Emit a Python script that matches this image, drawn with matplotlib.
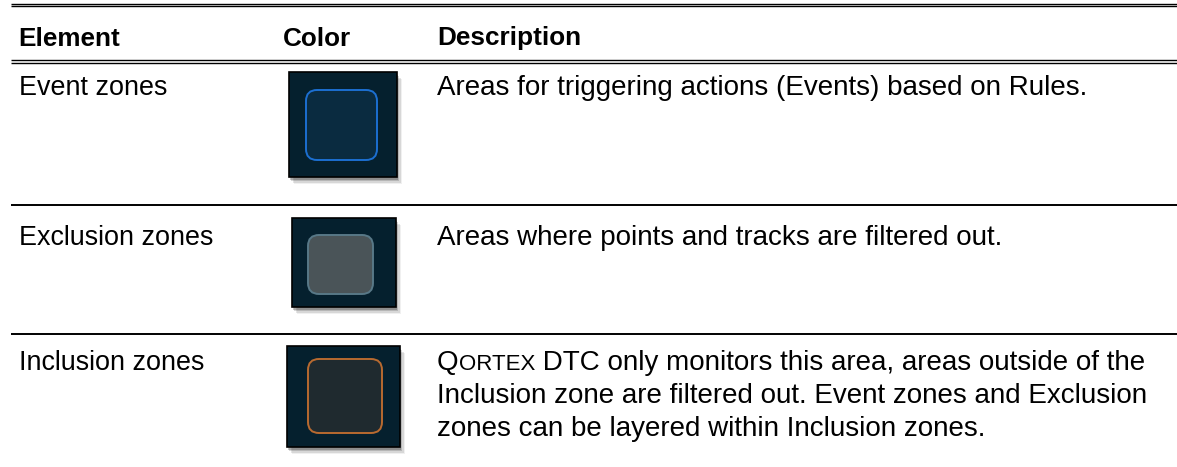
import matplotlib
matplotlib.use("Agg")
import matplotlib.pyplot as plt
from matplotlib.patches import Rectangle, FancyBboxPatch

plt.rcParams['font.family'] = ['Liberation Sans', 'DejaVu Sans']

# Table content
headers = ['Element', 'Color', 'Description']
elements = ['Event zones', 'Exclusion zones', 'Inclusion zones']
descriptions = [
    ['Areas for triggering actions (Events) based on Rules.'],
    ['Areas where points and tracks are filtered out.'],
    ['QORTEX DTC only monitors this area, areas outside of the',
     'Inclusion zone are filtered out. Event zones and Exclusion',
     'zones can be layered within Inclusion zones.'],
]
outer_fill = ['#05202e', '#05202e', '#05202e']
inner_fill = ['#0a2b40', '#4a5458', '#1f2a2f']
inner_edge = ['#1c6fd1', '#587887', '#b86a30']

# layout (pixel space)
W, H = 1177, 467
col_x = [18, 283, 437]
fs_head, fs_elem, fs_desc = 18.8, 19.4, 20
row_base = [95, 245, 370]       # baseline of first text line per row
line_gap = 33
swatch_box = [(289, 72, 108, 105), (292, 218, 104, 89), (287, 346, 113, 101)]
inner_box = [(306, 90, 71, 70), (308, 235, 65, 59), (308, 359, 74, 74)]

fig = plt.figure(figsize=(W / 100, H / 100), dpi=100)
ax = fig.add_axes([0, 0, 1, 1])
ax.set_xlim(0, W)
ax.set_ylim(H, 0)
ax.axis('off')

# rules
for y in [4.0, 6.4, 60.2, 62.9]:
    ax.hlines(y, 11, W, color='black', lw=1.0)
for y in [204.5, 334]:
    ax.hlines(y, 11, W, color='black', lw=1.4)

# header
for x, h in zip(col_x, headers):
    ax.text(x, 45.5, h, fontsize=fs_head, fontweight='bold', va='baseline', ha='left')

fig.canvas.draw()
renderer = fig.canvas.get_renderer()

for i, name in enumerate(elements):
    ax.text(col_x[0] + 1, row_base[i], name, fontsize=fs_elem, va='baseline', ha='left')
    for j, line in enumerate(descriptions[i]):
        y = row_base[i] + j * line_gap
        if line.startswith('QORTEX'):
            # small caps for the product name
            t = ax.text(col_x[2], y, 'Q', fontsize=fs_desc, va='baseline', ha='left')
            bb = t.get_window_extent(renderer)
            t2 = ax.text(col_x[2] + bb.width, y, 'ORTEX', fontsize=fs_desc * 0.8,
                         va='baseline', ha='left')
            bb2 = t2.get_window_extent(renderer)
            ax.text(col_x[2] + bb.width + bb2.width, y, line[6:], fontsize=fs_desc,
                    va='baseline', ha='left')
        else:
            ax.text(col_x[2], y, line, fontsize=fs_desc, va='baseline', ha='left')

    # swatch with soft shadow
    x0, y0, w, h = swatch_box[i]
    for k, a in enumerate([0.06, 0.1, 0.15, 0.22]):
        off = 7 - k * 1.5
        ax.add_patch(Rectangle((x0 + off - 2, y0 + off), w, h, facecolor='black',
                               edgecolor='none', alpha=a, zorder=1))
    ax.add_patch(Rectangle((x0, y0), w, h, facecolor=outer_fill[i],
                           edgecolor='black', lw=1.2, zorder=2))
    ix, iy, iw, ih = inner_box[i]
    ax.add_patch(FancyBboxPatch((ix, iy), iw, ih,
                                boxstyle='round,pad=0,rounding_size=11',
                                facecolor=inner_fill[i], edgecolor=inner_edge[i],
                                lw=1.4, zorder=3))

fig.savefig('out.png', dpi=100, facecolor='white')
